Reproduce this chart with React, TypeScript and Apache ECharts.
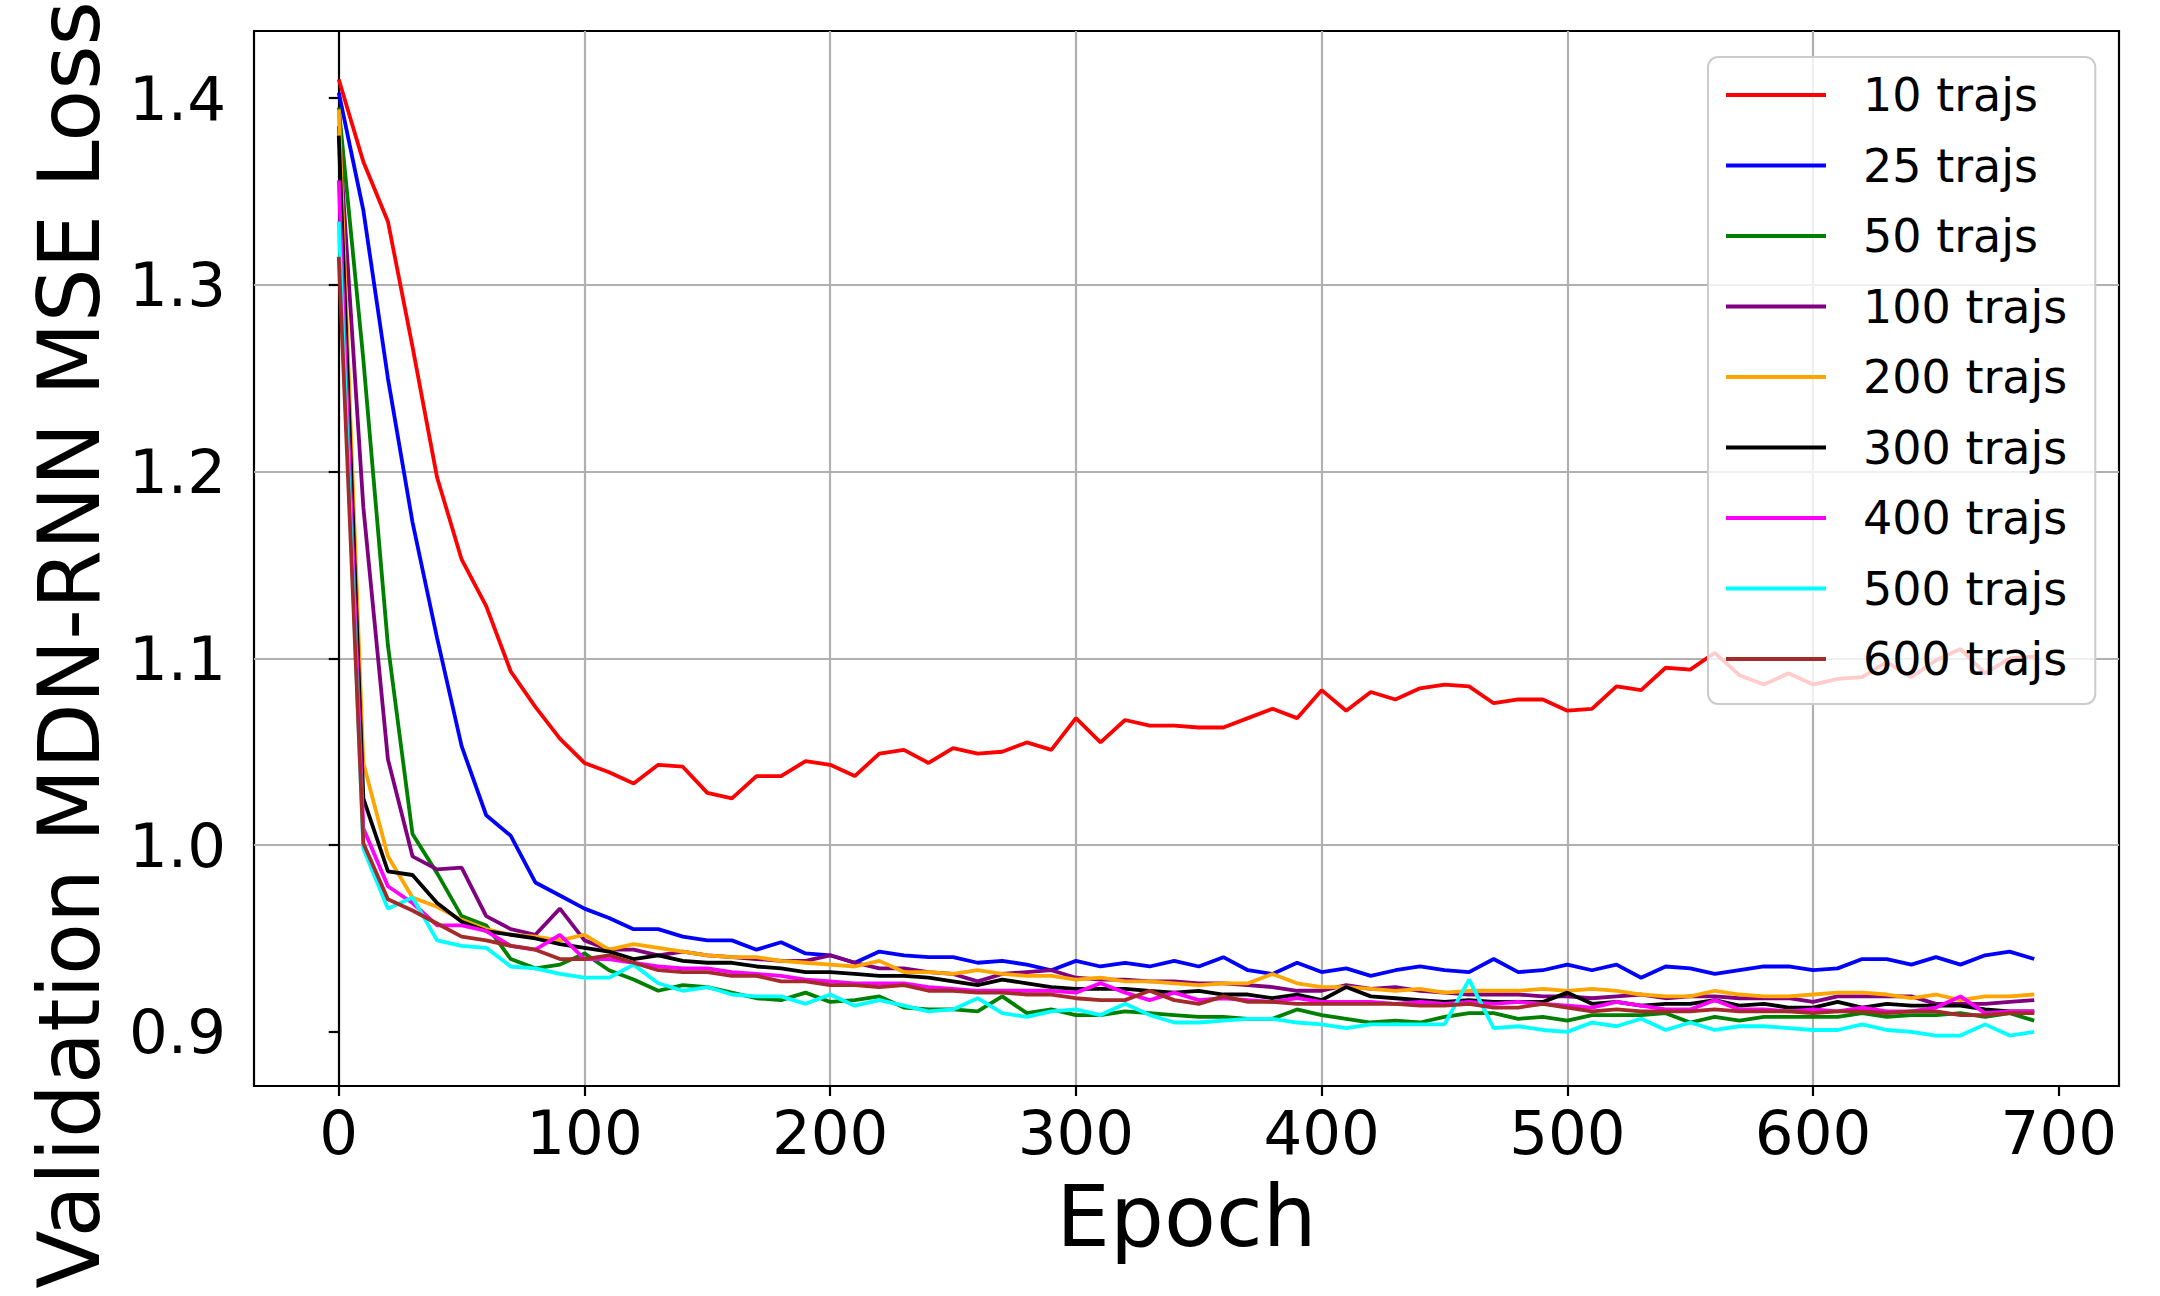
import * as echarts from 'echarts';
import { useEffect, useRef } from 'react';

// epochs, one point every 10 epochs
const EPOCHS = [
  0, 10, 20, 30, 40, 50, 60, 70, 80, 90,
  100, 110, 120, 130, 140, 150, 160, 170, 180, 190,
  200, 210, 220, 230, 240, 250, 260, 270, 280, 290,
  300, 310, 320, 330, 340, 350, 360, 370, 380, 390,
  400, 410, 420, 430, 440, 450, 460, 470, 480, 490,
  500, 510, 520, 530, 540, 550, 560, 570, 580, 590,
  600, 610, 620, 630, 640, 650, 660, 670, 680, 690,
];

const LOSS_10 = [
  1.410, 1.366, 1.334, 1.267, 1.197, 1.153, 1.128, 1.093, 1.074, 1.057,
  1.044, 1.039, 1.033, 1.043, 1.042, 1.028, 1.025, 1.037, 1.037, 1.045,
  1.043, 1.037, 1.049, 1.051, 1.044, 1.052, 1.049, 1.050, 1.055, 1.051,
  1.068, 1.055, 1.067, 1.064, 1.064, 1.063, 1.063, 1.068, 1.073, 1.068,
  1.083, 1.072, 1.082, 1.078, 1.084, 1.086, 1.085, 1.076, 1.078, 1.078,
  1.072, 1.073, 1.085, 1.083, 1.095, 1.094, 1.103, 1.091, 1.086, 1.092,
  1.086, 1.089, 1.090, 1.098, 1.090, 1.099, 1.105, 1.092, 1.100, 1.101,
];
const LOSS_25 = [
  1.403, 1.340, 1.250, 1.173, 1.111, 1.053, 1.016, 1.005, 0.980, 0.973,
  0.966, 0.961, 0.955, 0.955, 0.951, 0.949, 0.949, 0.944, 0.948, 0.942,
  0.941, 0.937, 0.943, 0.941, 0.940, 0.940, 0.937, 0.938, 0.936, 0.933,
  0.938, 0.935, 0.937, 0.935, 0.938, 0.935, 0.940, 0.933, 0.931, 0.937,
  0.932, 0.934, 0.930, 0.933, 0.935, 0.933, 0.932, 0.939, 0.932, 0.933,
  0.936, 0.933, 0.936, 0.929, 0.935, 0.934, 0.931, 0.933, 0.935, 0.935,
  0.933, 0.934, 0.939, 0.939, 0.936, 0.940, 0.936, 0.941, 0.943, 0.939,
];
const LOSS_50 = [
  1.395, 1.260, 1.107, 1.006, 0.985, 0.962, 0.957, 0.939, 0.934, 0.936,
  0.942, 0.933, 0.928, 0.922, 0.925, 0.924, 0.921, 0.918, 0.917, 0.921,
  0.916, 0.917, 0.919, 0.913, 0.912, 0.912, 0.911, 0.919, 0.910, 0.912,
  0.909, 0.909, 0.911, 0.910, 0.909, 0.908, 0.908, 0.907, 0.907, 0.912,
  0.909, 0.907, 0.905, 0.906, 0.905, 0.908, 0.910, 0.910, 0.907, 0.908,
  0.906, 0.909, 0.909, 0.909, 0.910, 0.905, 0.908, 0.906, 0.908, 0.908,
  0.908, 0.908, 0.910, 0.908, 0.909, 0.909, 0.910, 0.908, 0.910, 0.906,
];
const LOSS_100 = [
  1.385, 1.181, 1.046, 0.994, 0.987, 0.988, 0.962, 0.955, 0.952, 0.966,
  0.949, 0.944, 0.944, 0.941, 0.943, 0.941, 0.940, 0.939, 0.938, 0.938,
  0.941, 0.937, 0.934, 0.934, 0.932, 0.931, 0.927, 0.931, 0.932, 0.933,
  0.929, 0.928, 0.928, 0.927, 0.927, 0.926, 0.926, 0.925, 0.924, 0.922,
  0.922, 0.925, 0.923, 0.924, 0.922, 0.921, 0.920, 0.920, 0.920, 0.919,
  0.919, 0.918, 0.919, 0.920, 0.918, 0.919, 0.919, 0.918, 0.918, 0.918,
  0.916, 0.919, 0.919, 0.919, 0.919, 0.915, 0.915, 0.915, 0.916, 0.917,
];
const LOSS_200 = [
  1.394, 1.044, 0.994, 0.972, 0.967, 0.960, 0.955, 0.952, 0.951, 0.949,
  0.952, 0.944, 0.947, 0.945, 0.943, 0.941, 0.940, 0.940, 0.938, 0.937,
  0.936, 0.935, 0.938, 0.932, 0.932, 0.931, 0.933, 0.931, 0.930, 0.930,
  0.928, 0.929, 0.927, 0.927, 0.926, 0.925, 0.926, 0.926, 0.931, 0.926,
  0.924, 0.924, 0.923, 0.922, 0.923, 0.921, 0.922, 0.922, 0.922, 0.923,
  0.922, 0.923, 0.922, 0.920, 0.919, 0.919, 0.922, 0.920, 0.919, 0.919,
  0.920, 0.921, 0.921, 0.920, 0.918, 0.920, 0.917, 0.919, 0.919, 0.920,
];
const LOSS_300 = [
  1.380, 1.025, 0.986, 0.984, 0.969, 0.959, 0.954, 0.952, 0.950, 0.947,
  0.945, 0.943, 0.939, 0.941, 0.938, 0.937, 0.937, 0.935, 0.934, 0.932,
  0.932, 0.931, 0.930, 0.930, 0.929, 0.927, 0.925, 0.928, 0.926, 0.924,
  0.923, 0.923, 0.923, 0.922, 0.921, 0.922, 0.920, 0.920, 0.918, 0.920,
  0.917, 0.924, 0.919, 0.918, 0.917, 0.916, 0.917, 0.916, 0.916, 0.916,
  0.921, 0.915, 0.916, 0.914, 0.915, 0.915, 0.917, 0.914, 0.915, 0.913,
  0.913, 0.916, 0.913, 0.915, 0.914, 0.914, 0.914, 0.912, 0.911, 0.911,
];
const LOSS_400 = [
  1.356, 1.009, 0.978, 0.969, 0.957, 0.957, 0.954, 0.946, 0.944, 0.952,
  0.939, 0.939, 0.937, 0.935, 0.934, 0.934, 0.932, 0.931, 0.930, 0.928,
  0.927, 0.926, 0.926, 0.926, 0.924, 0.923, 0.922, 0.922, 0.922, 0.922,
  0.921, 0.926, 0.921, 0.917, 0.921, 0.917, 0.918, 0.917, 0.916, 0.918,
  0.916, 0.916, 0.916, 0.915, 0.916, 0.915, 0.916, 0.915, 0.916, 0.915,
  0.914, 0.913, 0.916, 0.914, 0.912, 0.912, 0.917, 0.912, 0.912, 0.911,
  0.912, 0.911, 0.913, 0.911, 0.911, 0.913, 0.919, 0.910, 0.911, 0.911,
];
const LOSS_500 = [
  1.334, 0.998, 0.966, 0.972, 0.949, 0.946, 0.945, 0.935, 0.934, 0.931,
  0.929, 0.929, 0.936, 0.926, 0.922, 0.924, 0.920, 0.919, 0.919, 0.915,
  0.920, 0.914, 0.917, 0.914, 0.911, 0.912, 0.918, 0.910, 0.908, 0.911,
  0.912, 0.909, 0.915, 0.909, 0.905, 0.905, 0.906, 0.907, 0.907, 0.905,
  0.904, 0.902, 0.904, 0.904, 0.904, 0.904, 0.928, 0.902, 0.903, 0.901,
  0.900, 0.905, 0.903, 0.907, 0.901, 0.905, 0.901, 0.903, 0.903, 0.902,
  0.901, 0.901, 0.904, 0.901, 0.900, 0.898, 0.898, 0.904, 0.898, 0.900,
];
const LOSS_600 = [
  1.315, 1.001, 0.971, 0.965, 0.958, 0.951, 0.949, 0.946, 0.944, 0.939,
  0.939, 0.941, 0.937, 0.933, 0.932, 0.932, 0.930, 0.930, 0.927, 0.927,
  0.925, 0.925, 0.924, 0.925, 0.922, 0.922, 0.921, 0.921, 0.920, 0.920,
  0.918, 0.917, 0.917, 0.922, 0.917, 0.915, 0.919, 0.916, 0.916, 0.915,
  0.915, 0.915, 0.915, 0.915, 0.914, 0.914, 0.915, 0.913, 0.913, 0.915,
  0.913, 0.911, 0.912, 0.911, 0.911, 0.911, 0.912, 0.911, 0.911, 0.911,
  0.910, 0.911, 0.911, 0.910, 0.911, 0.911, 0.909, 0.909, 0.910, 0.910,
];

const SERIES_NAMES = [
  '10 trajs', '25 trajs', '50 trajs', '100 trajs', '200 trajs',
  '300 trajs', '400 trajs', '500 trajs', '600 trajs',
];
const SERIES_VALUES = [
  LOSS_10, LOSS_25, LOSS_50, LOSS_100, LOSS_200,
  LOSS_300, LOSS_400, LOSS_500, LOSS_600,
];
const SERIES_COLORS = [
  '#ff0000', '#0000ff', '#008000', '#800080', '#ffa500',
  '#000000', '#ff00ff', '#00ffff', '#a52a2a',
];

const X_TICKS = [0, 100, 200, 300, 400, 500, 600, 700];
const Y_TICKS = [0.9, 1.0, 1.1, 1.2, 1.3, 1.4];

const FONT = 'DejaVu Sans';

export default function App() {
  const elRef = useRef<HTMLDivElement | null>(null);

  useEffect(() => {
    document.body.style.margin = '0';
    if (!elRef.current) return;

    const chart = echarts.init(elRef.current, undefined, { renderer: 'svg' });

    const axisCommon = {
      axisLine: { show: true, lineStyle: { color: '#000', width: 2.2 } },
      axisTick: { show: true, inside: false, length: 10, lineStyle: { color: '#000', width: 2.2 } },
      splitLine: {
        show: true,
        showMinLine: false,
        showMaxLine: false,
        lineStyle: { color: '#b0b0b0', width: 2.2 },
      },
    };

    chart.setOption({
      animation: false,
      backgroundColor: '#ffffff',
      grid: {
        left: 254,
        right: 41,
        top: 31,
        bottom: 210,
        show: true,
        borderColor: '#000',
        borderWidth: 2.2,
        backgroundColor: 'transparent',
      },
      xAxis: {
        type: 'value',
        min: -34.5,
        max: 724.5,
        minInterval: 100,
        maxInterval: 100,
        ...axisCommon,
        axisTick: { ...axisCommon.axisTick, customValues: X_TICKS },
        axisLabel: {
          customValues: X_TICKS,
          margin: 16,
          color: '#000',
          fontFamily: FONT,
          fontSize: 61,
        },
        name: 'Epoch',
        nameLocation: 'middle',
        nameGap: 88,
        nameTextStyle: { color: '#000', fontFamily: FONT, fontSize: 85 },
      },
      yAxis: {
        type: 'value',
        min: 0.871,
        max: 1.436,
        minInterval: 0.1,
        maxInterval: 0.1,
        ...axisCommon,
        axisTick: { ...axisCommon.axisTick, customValues: Y_TICKS },
        axisLabel: {
          customValues: Y_TICKS,
          margin: 28,
          color: '#000',
          fontFamily: FONT,
          fontSize: 61,
          formatter: (v: number) => v.toFixed(1),
        },
      },
      graphic: [
        {
          type: 'text',
          x: 69,
          y: 645,
          rotation: Math.PI / 2,
          style: {
            text: 'Validation MDN-RNN MSE Loss',
            fill: '#000',
            font: `85px "${FONT}"`,
            textAlign: 'center',
            textVerticalAlign: 'middle',
          },
        },
      ],
      legend: {
        orient: 'vertical',
        left: 1708,
        top: 57,
        data: SERIES_NAMES.map((name) => ({ name, icon: 'rect' })),
        itemWidth: 100,
        itemHeight: 4,
        itemGap: 20.5,
        padding: [13, 28, 20, 18],
        backgroundColor: 'rgba(255,255,255,0.8)',
        borderColor: '#cccccc',
        borderWidth: 2,
        borderRadius: 10,
        textStyle: {
          color: '#000',
          fontFamily: FONT,
          fontSize: 46,
          lineHeight: 50,
          padding: [0, 0, 0, 32],
        },
      },
      series: SERIES_NAMES.map((name, i) => ({
        name,
        type: 'line',
        data: EPOCHS.map((e, j) => [e, SERIES_VALUES[i][j]]),
        showSymbol: false,
        symbol: 'none',
        color: SERIES_COLORS[i],
        lineStyle: { color: SERIES_COLORS[i], width: 3.8 },
        emphasis: { disabled: true },
      })),
    });

    return () => {
      chart.dispose();
    };
  }, []);

  return <div ref={elRef} style={{ width: 2160, height: 1296 }} />;
}
